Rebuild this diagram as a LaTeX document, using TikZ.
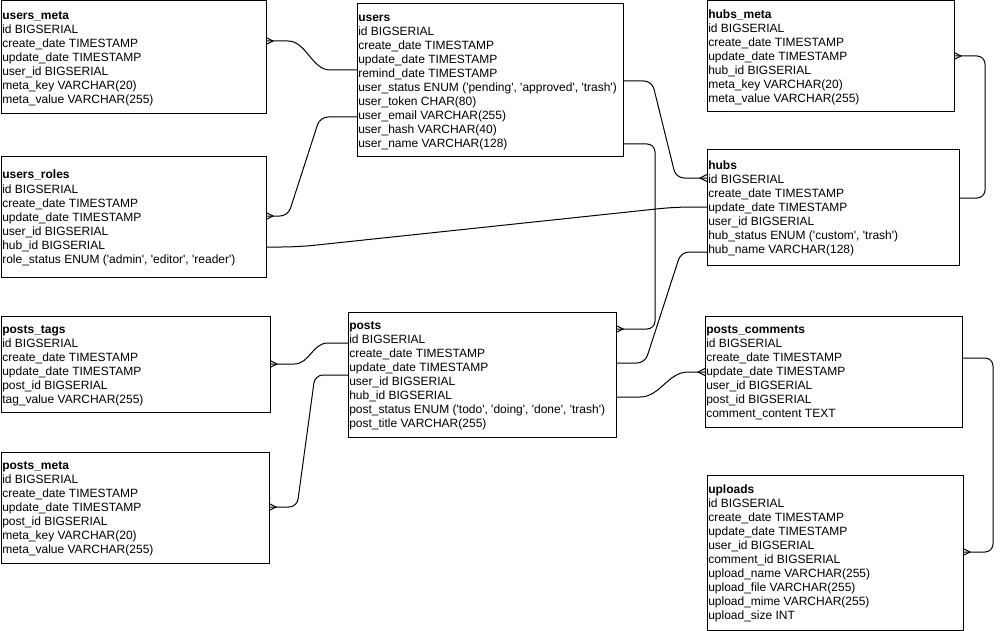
\documentclass[tikz,border=0pt]{standalone}
\usepackage{fontspec}
\setmainfont{Liberation Sans}[Ligatures=TeXOff]
\usetikzlibrary{calc}

\tikzset{
  entity/.style={draw=black, line width=0.75pt, fill=white, inner sep=0pt, outer sep=0pt},
  field/.style={anchor=base west, inner sep=0pt, font=\fontsize{9}{10.5}\selectfont},
  fieldtitle/.style={field, font=\fontsize{9}{10.5}\selectfont\bfseries},
  conn/.style={draw=black, line width=0.75pt},
  elbow/.style={conn, rounded corners=6pt},
  crow/.pic={\draw[line width=0.75pt] (0,-3.5) -- (7,0) -- (0,3.5);},
}

% #1 name, #2 x, #3 y, #4 width, #5 height, #6 number of lines, #7 title, #8 fields
\newcommand\erEntity[8]{%
  \node[entity, minimum width=#4*0.75pt, minimum height=#5*0.75pt, anchor=north west] (#1) at (#2,#3) {};
  \pgfmathsetmacro\erTop{(#5-14*#6)/2+11}
  \node[fieldtitle] (#1-0) at ($(#1.north west)+(1,\erTop)$) {#7};
  \foreach \erField [count=\erRow] in {#8}
    \node[field] (#1-\erRow) at ($(#1.north west)+(1,{\erTop+14*\erRow})$) {\erField};
}

\begin{document}
\begin{tikzpicture}[x=0.75pt, y=-0.75pt]
\useasboundingbox (0,0) rectangle (1002,631);

\erEntity{usersmeta}{1}{1}{265}{113}{7}{users\_meta}{id BIGSERIAL, create\_date TIMESTAMP, update\_date TIMESTAMP, user\_id BIGSERIAL, meta\_key VARCHAR(20), meta\_value VARCHAR(255)}
\erEntity{users}{357}{4}{266}{153}{10}{users}{id BIGSERIAL, create\_date TIMESTAMP, update\_date TIMESTAMP, remind\_date TIMESTAMP, {user\_status ENUM ('pending', 'approved', 'trash')}, user\_token CHAR(80), user\_email VARCHAR(255), user\_hash VARCHAR(40), user\_name VARCHAR(128)}
\erEntity{usersroles}{1}{157}{265}{120}{7}{users\_roles}{id BIGSERIAL, create\_date TIMESTAMP, update\_date TIMESTAMP, user\_id BIGSERIAL, hub\_id BIGSERIAL, {role\_status ENUM ('admin', 'editor', 'reader')}}
\erEntity{hubsmeta}{707}{1}{247}{111}{7}{hubs\_meta}{id BIGSERIAL, create\_date TIMESTAMP, update\_date TIMESTAMP, hub\_id BIGSERIAL, meta\_key VARCHAR(20), meta\_value VARCHAR(255)}
\erEntity{hubs}{707}{150}{252}{115}{7}{hubs}{id BIGSERIAL, create\_date TIMESTAMP, update\_date TIMESTAMP, user\_id BIGSERIAL, {hub\_status ENUM ('custom', 'trash')}, hub\_name VARCHAR(128)}
\erEntity{poststags}{1}{316}{269}{96}{6}{posts\_tags}{id BIGSERIAL, create\_date TIMESTAMP, update\_date TIMESTAMP, post\_id BIGSERIAL, tag\_value VARCHAR(255)}
\erEntity{postsmeta}{1}{452}{268}{111}{7}{posts\_meta}{id BIGSERIAL, create\_date TIMESTAMP, update\_date TIMESTAMP, post\_id BIGSERIAL, meta\_key VARCHAR(20), meta\_value VARCHAR(255)}
\erEntity{posts}{348}{312}{268}{125}{8}{posts}{id BIGSERIAL, create\_date TIMESTAMP, update\_date TIMESTAMP, user\_id BIGSERIAL, hub\_id BIGSERIAL, {post\_status ENUM ('todo', 'doing', 'done', 'trash')}, post\_title VARCHAR(255)}
\erEntity{postscomments}{705}{316}{257}{111}{7}{posts\_comments}{id BIGSERIAL, create\_date TIMESTAMP, update\_date TIMESTAMP, user\_id BIGSERIAL, post\_id BIGSERIAL, comment\_content TEXT}
\erEntity{uploads}{707}{475}{256}{155}{10}{uploads}{id BIGSERIAL, create\_date TIMESTAMP, update\_date TIMESTAMP, user\_id BIGSERIAL, comment\_id BIGSERIAL, upload\_name VARCHAR(255), upload\_file VARCHAR(255), upload\_mime VARCHAR(255), upload\_size INT}

% attachment points on the entity borders
\coordinate (umE)  at ($(usersmeta.north east)+(0,40)$);
\coordinate (uW1)  at ($(users.north west)+(0,66)$);
\coordinate (uW2)  at ($(users.north west)+(0,113)$);
\coordinate (uE1)  at ($(users.north east)+(0,77)$);
\coordinate (uE2)  at ($(users.north east)+(0,140)$);
\coordinate (urE1) at ($(usersroles.north east)+(0,59)$);
\coordinate (urE2) at ($(usersroles.north east)+(0,90)$);
\coordinate (hW1)  at ($(hubs.north west)+(0,28)$);
\coordinate (hW2)  at ($(hubs.north west)+(0,57)$);
\coordinate (hW3)  at ($(hubs.north west)+(0,102)$);
\coordinate (hE)   at ($(hubs.north east)+(0,48)$);
\coordinate (hmE)  at ($(hubsmeta.north east)+(0,55)$);
\coordinate (ptE)  at ($(poststags.north east)+(0,48)$);
\coordinate (pmE)  at ($(postsmeta.north east)+(0,55)$);
\coordinate (pW1)  at ($(posts.north west)+(0,31)$);
\coordinate (pW2)  at ($(posts.north west)+(0,63)$);
\coordinate (pE1)  at ($(posts.north east)+(0,17)$);
\coordinate (pE2)  at ($(posts.north east)+(0,51)$);
\coordinate (pE3)  at ($(posts.north east)+(0,85)$);
\coordinate (pcW)  at ($(postscomments.north west)+(0,56)$);
\coordinate (pcE)  at ($(postscomments.north east)+(0,42)$);
\coordinate (upE)  at ($(uploads.north east)+(0,77)$);

% relations
\draw[conn] (umE) -- (288,41) .. controls (306,41) and (312,70) .. (330,70) -- (uW1);
\draw[elbow] (urE1) -- (288,216) -- (320,117) -- (uW2);
\draw[conn, rounded corners=12pt] (urE2) -- (298,247) -- (675,207) -- (hW2);
\draw[elbow] (uE1) -- (652,81) -- (676,178) -- (hW1);
\draw[elbow] (uE2) -- (655,144) -- (655,329) -- (pE1);
\draw[elbow] (hE) -- (985,198) -- (985,56) -- (hmE);
\draw[conn] (ptE) -- (294,364) .. controls (310,364) and (312,343) .. (328,343) -- (pW1);
\draw[elbow] (pmE) -- (297,507) -- (315,375) -- (pW2);
\draw[elbow] (pE2) -- (645,363) -- (681,252) -- (hW3);
\draw[conn] (pE3) -- (640,397) .. controls (660,397) and (668,372) .. (688,372) -- (pcW);
\draw[elbow] (pcE) -- (993,358) -- (993,552) -- (upE);

% many-side markers
\pic at (umE) {crow};
\pic at (urE1) {crow};
\pic[rotate=180] at (hW1) {crow};
\pic at (pE1) {crow};
\pic at (hmE) {crow};
\pic at (ptE) {crow};
\pic at (pmE) {crow};
\pic[rotate=180] at (pcW) {crow};
\pic at (upE) {crow};
\end{tikzpicture}
\end{document}
